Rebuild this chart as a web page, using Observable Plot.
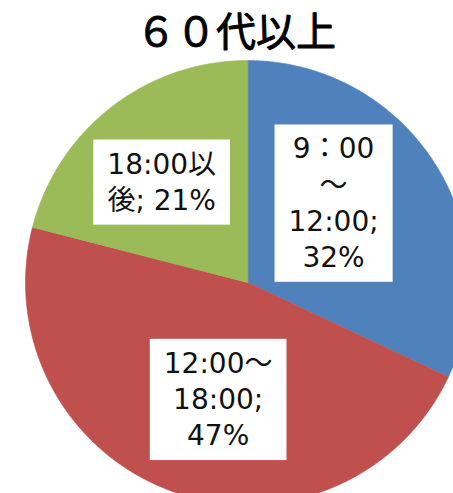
<!DOCTYPE html>
<html><head><meta charset="utf-8">
<script src="https://cdn.jsdelivr.net/npm/d3@7"></script>
<script src="https://cdn.jsdelivr.net/npm/@observablehq/plot@0.6"></script>
<style>html,body{margin:0;padding:0;overflow:hidden;background:#fff}</style>
</head><body><div id="chart"></div>
<script>
// ---- data ----
const title = "６０代以上";
const categories = ["9：00～12:00", "12:00～18:00", "18:00以後"];
const shares = [32, 47, 21];
const labelTexts = ["9：00\n～\n12:00;\n" + shares[0] + "%", "12:00～\n18:00;\n" + shares[1] + "%", "18:00以\n後; " + shares[2] + "%"];
const colors = ["#4F81BD", "#C0504D", "#9BBB59"];

// ---- geometry from data (angles clockwise from 12 o'clock) ----
const total = d3.sum(shares);
let acc = 0;
const slices = shares.map((v, i) => {
  const a0 = acc / total * 2 * Math.PI; acc += v;
  const a1 = acc / total * 2 * Math.PI;
  return {cat: categories[i], a0, a1, mid: (a0 + a1) / 2, label: labelTexts[i]};
});
const pts = [];
for (const s of slices) {
  pts.push({cat: s.cat, x: 0, y: 0});
  const n = Math.max(2, Math.ceil((s.a1 - s.a0) / (Math.PI / 360)));
  for (let k = 0; k <= n; k++) {
    const t = s.a0 + (s.a1 - s.a0) * k / n;
    pts.push({cat: s.cat, x: Math.sin(t), y: Math.cos(t)});
  }
}
const labelR = 0.55;
const nudges = [[-17, -16], [12, 0], [-11, -6]];
const labelMarks = slices.map((s, i) => Plot.text([{x: labelR * Math.sin(s.mid), y: labelR * Math.cos(s.mid), t: s.label}], {
  x: "x", y: "y", text: "t", dx: nudges[i][0], dy: nudges[i][1],
  fontSize: 28, lineHeight: 1.29, fill: "#111", textAnchor: "middle", lineAnchor: "middle",
  fontFamily: "'DejaVu Sans', 'Noto Sans CJK JP', sans-serif"
}));

const R = 222, CX = 247, CY = 282;
const chart = Plot.plot({
  width: 453, height: 493, margin: 0,
  x: {domain: [-1, 1], range: [CX - R, CX + R], axis: null},
  y: {domain: [-1, 1], range: [CY + R, CY - R], axis: null},
  color: {domain: categories, range: colors},
  marks: [
    Plot.line(pts, {x: "x", y: "y", z: "cat", fill: "cat", stroke: "cat", strokeWidth: 0.6, curve: "linear-closed", clip: true}),
    ...labelMarks,
    Plot.text([title], {text: d => d, frameAnchor: "top", lineAnchor: "top", dy: 17, dx: 9, fontSize: 40,
      fill: "#000", stroke: "#000", strokeWidth: 0.9, fontFamily: "'Noto Sans CJK JP', sans-serif"})
  ]
});
document.getElementById("chart").appendChild(chart);

// white boxes behind the data labels
const padX = 14, padY = 8;
chart.querySelectorAll("g[aria-label=text] text").forEach(t => {
  if (t.textContent === title) return;
  const b = t.getBBox();
  const r = document.createElementNS("http://www.w3.org/2000/svg", "rect");
  r.setAttribute("x", b.x - padX); r.setAttribute("y", b.y - padY);
  r.setAttribute("width", b.width + 2 * padX); r.setAttribute("height", b.height + 2 * padY);
  r.setAttribute("fill", "#fff");
  if (t.getAttribute("transform")) r.setAttribute("transform", t.getAttribute("transform"));
  t.parentNode.insertBefore(r, t);
});
</script></body></html>
